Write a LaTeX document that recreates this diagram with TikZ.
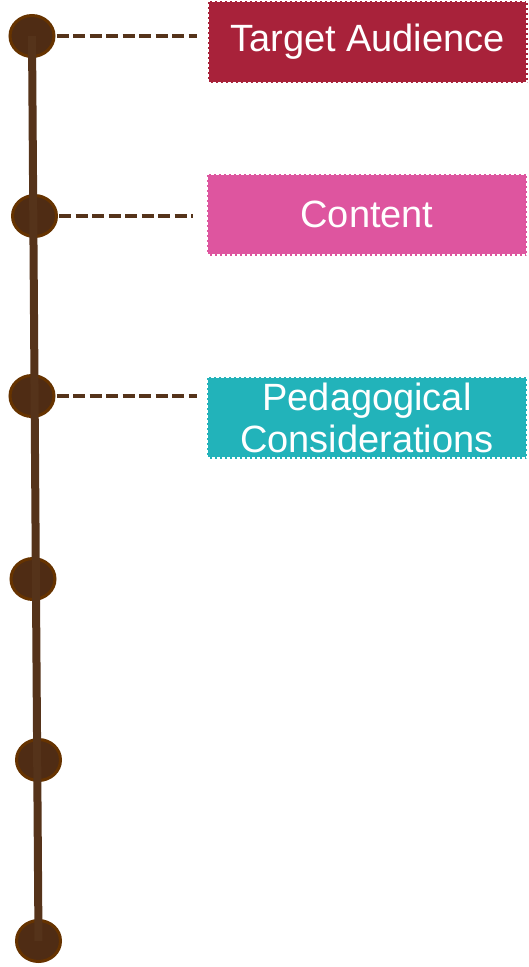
\documentclass[tikz,border=0pt]{standalone}
\usepackage{fontspec}
\setmainfont{Liberation Sans}
\usetikzlibrary{positioning}
\usetikzlibrary{shapes.geometric}

\definecolor{spinebrown}{HTML}{55331A}
\definecolor{dotfill}{HTML}{4F2C14}
\definecolor{dotring}{HTML}{663300}
\definecolor{audiencered}{HTML}{A8223A}
\definecolor{contentpink}{HTML}{DE559F}
\definecolor{pedateal}{HTML}{22B3BA}

\tikzset{
    milestone/.style={ellipse, minimum width=44pt, minimum height=41pt, inner sep=0pt, fill=dotfill, draw=dotring, line width=3pt},
    topicbox/.style={rectangle, minimum width=320pt, minimum height=82pt, inner sep=0pt, draw=white, line width=2.5pt, dash pattern=on 3pt off 2pt, text=white, align=center, font=\fontsize{38}{42}\selectfont},
    leader/.style={spinebrown, line width=3.5pt, dash pattern=on 12pt off 4.5pt}
}

\begin{document}
\begin{tikzpicture}[x=1pt, y=-1pt]
    \useasboundingbox (0,0) rectangle (529,967);

    \foreach \x/\y [count=\i] in {32/36, 34.5/216, 32/396, 33/579, 38.5/760, 38.5/941}{
        \draw (\x, \y) node[milestone] (d\i) {};
    }
    \draw[spinebrown, line width=8pt] (d1.center) -- (d6.center);

    \draw (367.5, 42) node[topicbox, fill=audiencered] (b1) {Target Audience};
    \draw (367, 214.5) node[topicbox, fill=contentpink] (b2) {Content};
    \draw (367, 417.5) node[topicbox, fill=pedateal] (b3) {Pedagogical\\Considerations};

    \draw[leader, shorten <=1pt, shorten >=9pt] (d1.east) -- (d1.east -| b1.west);
    \draw[leader, shorten <=1pt, shorten >=13pt] (d2.east) -- (d2.east -| b2.west);
    \draw[leader, shorten <=1pt, shorten >=9pt] (d3.east) -- (d3.east -| b3.west);
\end{tikzpicture}
\end{document}
